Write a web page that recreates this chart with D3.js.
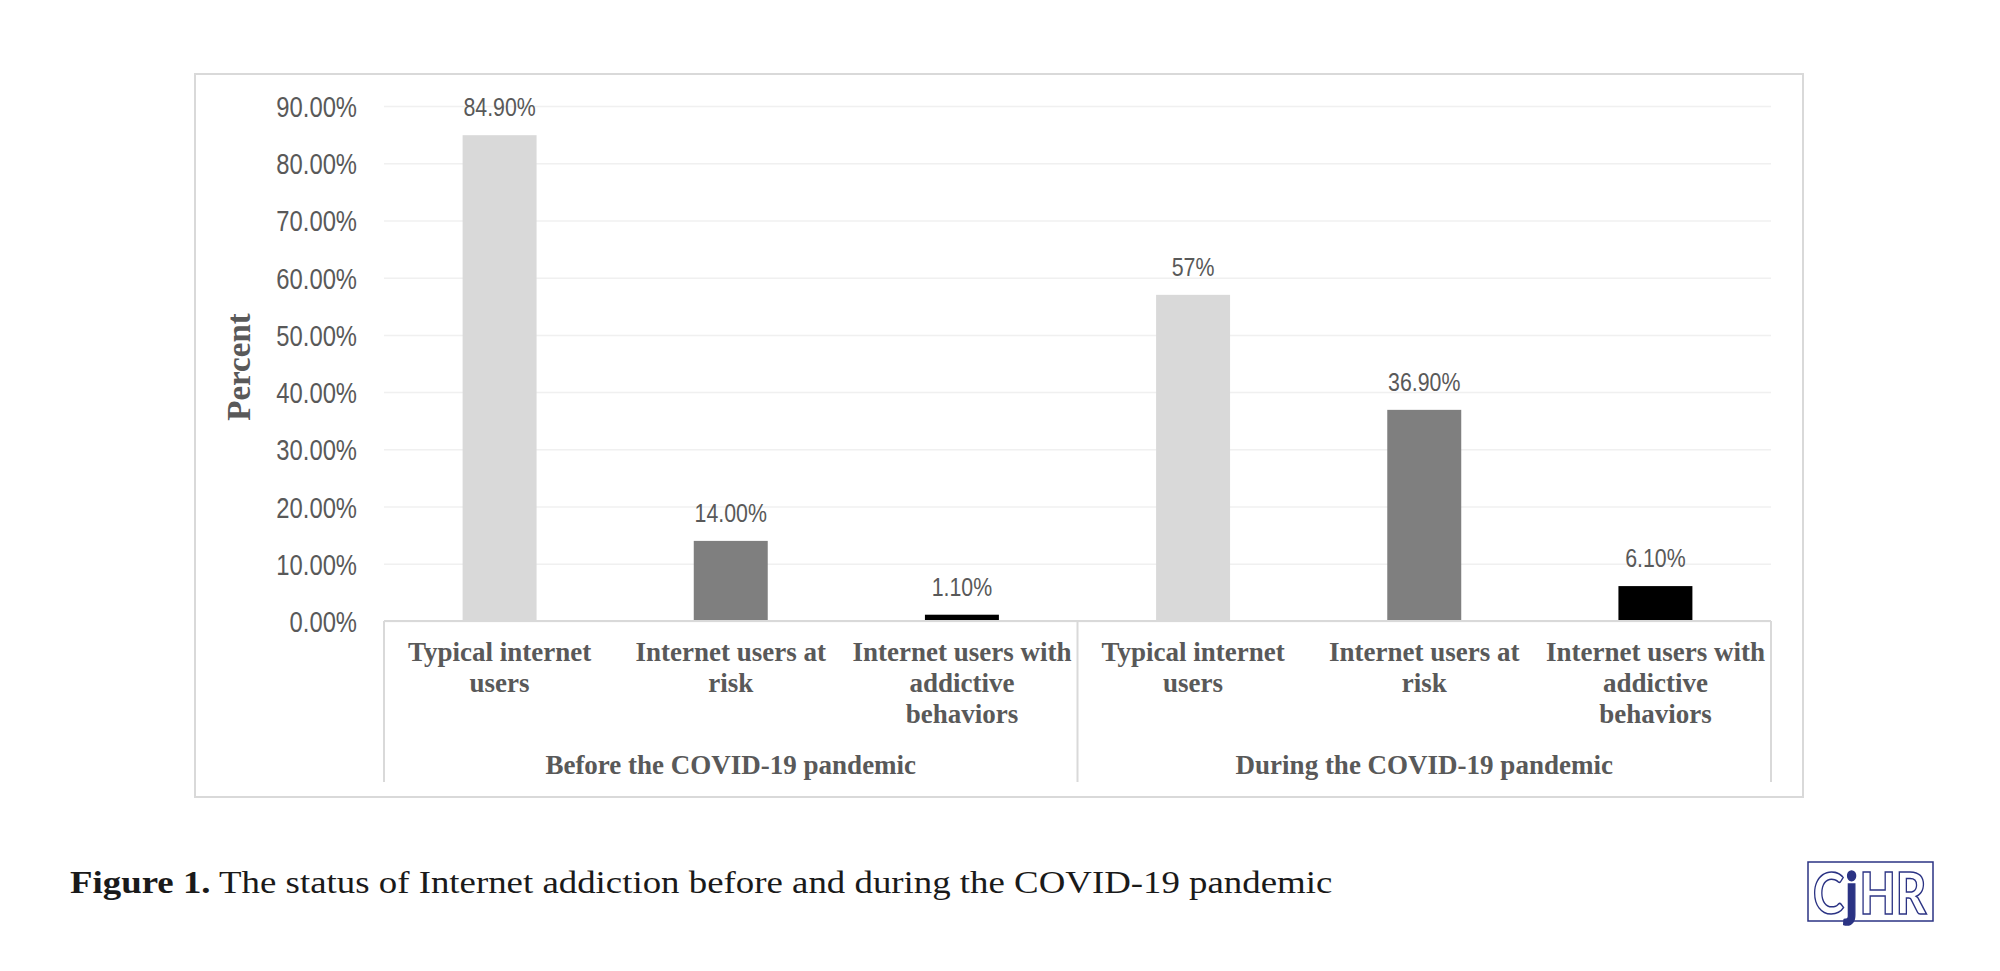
<!DOCTYPE html>
<meta charset="utf-8">
<style>
    body { margin: 0; background: #fff; }
    .tick-label { font-family: "Liberation Sans", Arial, sans-serif; fill: #595959; }
    .cat { font-family: "Liberation Serif", serif; font-weight: bold; fill: #595959; }
</style>
<body>

<script src="https://d3js.org/d3.v7.min.js"></script>
<script>
    // data
    var groups = ["Before the COVID-19 pandemic", "During the COVID-19 pandemic"];
    var categories = ["Typical internet users", "Internet users at risk", "Internet users with addictive behaviors"];
    var categoryLines = [["Typical internet", "users"], ["Internet users at", "risk"], ["Internet users with", "addictive", "behaviors"]];
    var beforeValues = [84.9, 14.0, 1.1];
    var duringValues = [57, 36.9, 6.1];
    var beforeLabels = ["84.90%", "14.00%", "1.10%"];
    var duringLabels = ["57%", "36.90%", "6.10%"];
    var yTicks = [0, 10, 20, 30, 40, 50, 60, 70, 80, 90];
    var barColors = ["#d9d9d9", "#7f7f7f", "#000000"];

    var W = 2000, H = 971;
    var plot = {left: 384, right: 1771, top: 106, bottom: 621, axisBottom: 782};

    // the chart's sans text is a narrow face; squeeze the regular one to match
    function narrow(sel, k) {
        sel.each(function() {
            var w = this.getComputedTextLength();
            d3.select(this).attr("textLength", w * k).attr("lengthAdjust", "spacingAndGlyphs");
        });
    }

    var rows = [];
    groups.forEach(function(g, gi) {
        var vals = gi === 0 ? beforeValues : duringValues;
        var labs = gi === 0 ? beforeLabels : duringLabels;
        categories.forEach(function(c, ci) {
            rows.push({key: gi + "-" + ci, group: g, gi: gi, ci: ci, value: vals[ci], label: labs[ci]});
        });
    });

    var svg = d3.select("body").append("svg")
        .attr("width", W)
        .attr("height", H);

    // chart frame
    svg.append("rect")
        .attr("x", 195).attr("y", 74)
        .attr("width", 1608).attr("height", 723)
        .attr("fill", "none")
        .attr("stroke", "#d9d9d9")
        .attr("stroke-width", 2);

    var x = d3.scaleBand()
        .domain(rows.map(d => d.key))
        .range([plot.left, plot.right])
        .paddingInner(0.68)
        .paddingOuter(0.34);

    var y = d3.scaleLinear()
        .domain([0, 90])
        .range([plot.bottom, plot.top]);

    // gridlines
    svg.append("g")
        .attr("transform", "translate(" + plot.left + ",0)")
        .call(d3.axisLeft(y).tickValues(yTicks).tickSize(-(plot.right - plot.left)).tickFormat(""))
        .call(g => g.select(".domain").remove())
        .call(g => g.selectAll("line").attr("stroke", "#f0f0f0").attr("stroke-width", 1.5));

    // y tick labels
    svg.append("g")
        .attr("transform", "translate(" + (plot.left - 1) + ",0)")
        .call(d3.axisLeft(y).tickValues(yTicks).tickSize(0).tickPadding(26).tickFormat(d => d.toFixed(2) + "%"))
        .call(g => g.select(".domain").remove())
        .call(g => g.selectAll("text")
            .attr("class", "tick-label")
            .attr("font-size", 29)
            .attr("dy", "0.36em")
            .call(narrow, 0.82));

    // bars
    svg.selectAll(".bar")
        .data(rows)
        .join("rect")
        .attr("class", "bar")
        .attr("x", d => x(d.key))
        .attr("y", d => y(d.value))
        .attr("width", x.bandwidth())
        .attr("height", d => y(0) - y(d.value))
        .attr("fill", d => barColors[d.ci]);

    // value labels
    svg.selectAll(".val")
        .data(rows)
        .join("text")
        .attr("class", "val tick-label")
        .attr("x", d => x(d.key) + x.bandwidth() / 2)
        .attr("y", d => y(d.value) - 19)
        .attr("text-anchor", "middle")
        .attr("font-size", 26)
        .text(d => d.label)
        .call(narrow, 0.82);

    // category axis lines
    svg.append("line")
        .attr("x1", plot.left).attr("x2", plot.right)
        .attr("y1", plot.bottom).attr("y2", plot.bottom)
        .attr("stroke", "#d9d9d9").attr("stroke-width", 2);

    var groupEdges = [x(rows[0].key) - x.step() * 0.34,
                      x(rows[3].key) - x.step() * 0.34,
                      x(rows[5].key) + x.bandwidth() + x.step() * 0.34];
    svg.selectAll(".gline")
        .data(groupEdges)
        .join("line")
        .attr("class", "gline")
        .attr("x1", d => d).attr("x2", d => d)
        .attr("y1", plot.bottom).attr("y2", plot.axisBottom)
        .attr("stroke", "#d9d9d9").attr("stroke-width", 2);

    // category labels, one text per line
    var catLines = [];
    rows.forEach(function(d) {
        categoryLines[d.ci].forEach(function(line, li) {
            catLines.push({cx: x(d.key) + x.bandwidth() / 2, li: li, text: line});
        });
    });
    svg.selectAll(".catline")
        .data(catLines)
        .join("text")
        .attr("class", "cat catline")
        .attr("font-size", 27)
        .attr("text-anchor", "middle")
        .attr("x", d => d.cx)
        .attr("y", d => 661 + d.li * 31)
        .text(d => d.text);

    // group labels
    svg.selectAll(".grp")
        .data(groups)
        .join("text")
        .attr("class", "cat grp")
        .attr("font-size", 27)
        .attr("text-anchor", "middle")
        .attr("x", (d, i) => (groupEdges[i] + groupEdges[i + 1]) / 2)
        .attr("y", 774)
        .text(d => d);

    // y axis title
    svg.append("text")
        .attr("class", "cat")
        .attr("font-size", 33)
        .attr("text-anchor", "middle")
        .attr("transform", "translate(250,367) rotate(-90)")
        .text("Percent");

    // caption (Palatino-like width: widen the serif to the reference span)
    var capG = svg.append("g");
    var cap = capG.append("text")
        .attr("x", 0).attr("y", 0)
        .attr("font-family", "Liberation Serif, serif")
        .attr("font-size", 32)
        .attr("fill", "#1a1a1a");
    cap.append("tspan").attr("font-weight", "bold").text("Figure 1.");
    cap.append("tspan").text(" The status of Internet addiction before and during the COVID-19 pandemic");
    var capW = cap.node().getComputedTextLength();
    capG.attr("transform", "translate(70,893) scale(" + (1263 / capW) + ",1)");

    // journal logo
    svg.append("rect")
        .attr("x", 1808).attr("y", 862)
        .attr("width", 125).attr("height", 59)
        .attr("fill", "#fff")
        .attr("stroke", "#2b3384").attr("stroke-width", 1.5);
    var logoParts = [{t: "C", solid: false}, {t: "j", solid: true}, {t: "HR", solid: false}];
    var logoG = svg.append("g");
    var lx = 0;
    logoParts.forEach(function(p) {
        var t = logoG.append("text")
            .attr("x", lx).attr("y", 0)
            .attr("font-family", "Lato, sans-serif")
            .attr("font-weight", 900)
            .attr("font-size", 58)
            .attr("fill", p.solid ? "#2b3384" : "#fff")
            .attr("stroke", "#2b3384")
            .attr("stroke-width", 1.6)
            .text(p.t);
        lx += t.node().getComputedTextLength() + 2;
    });
    logoG.attr("transform", "translate(1813,914) scale(" + (115 / lx) + ",1)");
</script>

</body>
</html>
